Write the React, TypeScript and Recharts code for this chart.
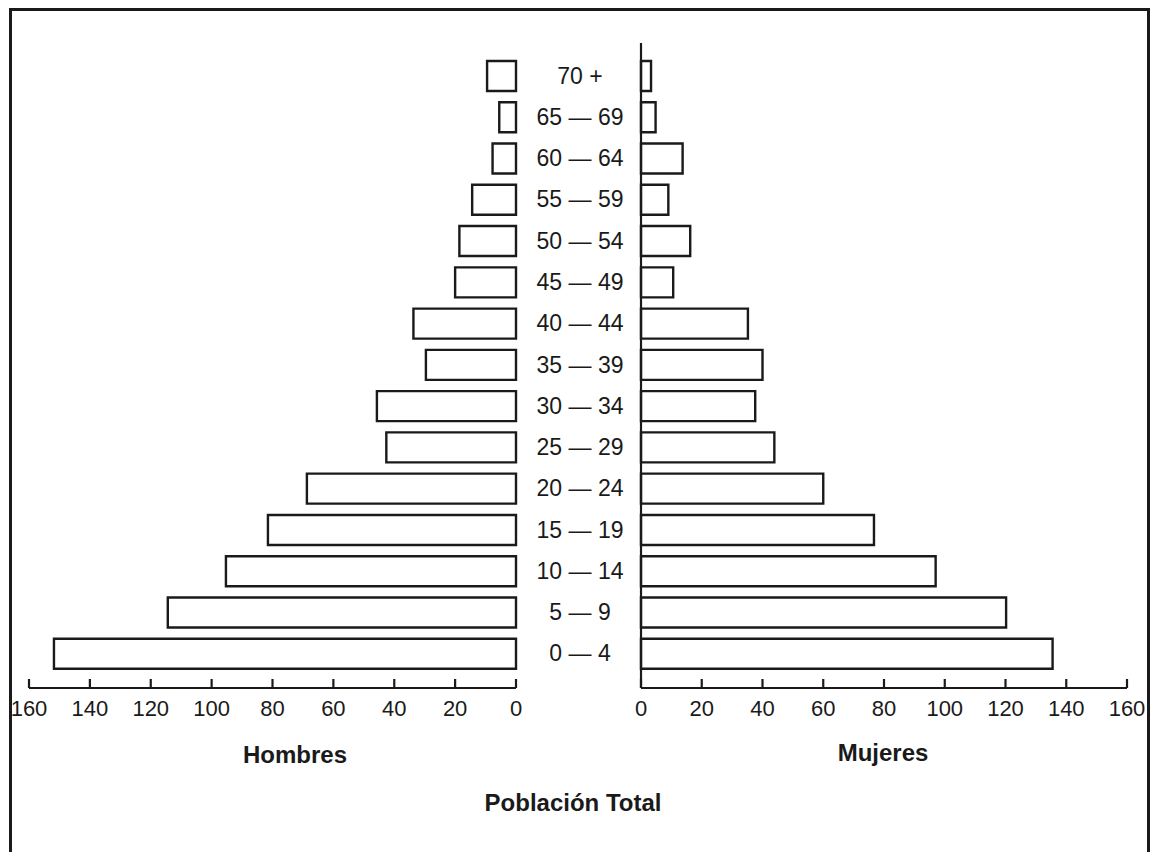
import { Bar, BarChart, XAxis, YAxis } from "recharts";

// age groups, top (oldest) to bottom (youngest)
const ages = [
  "70 +",
  "65 — 69",
  "60 — 64",
  "55 — 59",
  "50 — 54",
  "45 — 49",
  "40 — 44",
  "35 — 39",
  "30 — 34",
  "25 — 29",
  "20 — 24",
  "15 — 19",
  "10 — 14",
  "5 — 9",
  "0 — 4",
];
const hombres = [9.5, 5.5, 7.7, 14.4, 18.6, 20, 33.7, 29.6, 45.7, 42.6, 68.7, 81.5, 95.3, 114.4, 151.8];
const mujeres = [3.3, 4.8, 13.7, 9, 16.2, 10.6, 35.2, 40, 37.6, 43.9, 60, 76.7, 97, 120.2, 135.5];
const xTicks = [0, 20, 40, 60, 80, 100, 120, 140, 160];

const font = '"Liberation Sans", Arial, Helvetica, sans-serif';
const ink = "#1a1a1a";

const rows = ages.map((age, i) => ({ age, hombres: hombres[i], mujeres: mujeres[i] }));

const tickStyle = { fontSize: 22, fontFamily: font, fill: ink };
const line = { stroke: ink, strokeWidth: 2.2 };

function AgeTick({ y, payload }: any) {
  return (
    <text x={64} y={y} textAnchor="middle" dominantBaseline="central" fontSize={23} fontFamily={font} fill={ink}>
      {payload.value}
    </text>
  );
}

function Title({ text, cx, cy }: { text: string; cx: number; cy: number }) {
  return (
    <div
      style={{
        position: "absolute",
        left: cx - 150,
        top: cy - 12,
        width: 300,
        textAlign: "center",
        fontFamily: font,
        fontWeight: "bold",
        fontSize: 24,
        lineHeight: "24px",
        color: ink,
      }}
    >
      {text}
    </div>
  );
}

export default function App() {
  return (
    <div style={{ position: "absolute", left: 0, top: 0, width: 1154, height: 852, overflow: "hidden", background: "#fff" }}>
      <div
        style={{
          position: "absolute",
          left: 9,
          top: 7.5,
          width: 1141,
          height: 900,
          boxSizing: "border-box",
          borderTop: `3px solid ${ink}`,
          borderLeft: `3px solid ${ink}`,
          borderRight: `3px solid ${ink}`,
        }}
      />

      <div style={{ position: "absolute", left: 0, top: 0 }}>
        <BarChart width={560} height={760} data={rows} layout="vertical" margin={{ top: 43, right: 44, bottom: 32, left: 29 }}>
          <XAxis
            type="number"
            domain={[0, 160]}
            ticks={xTicks}
            reversed
            height={40}
            axisLine={line}
            tickLine={line}
            tickSize={-9}
            tickMargin={21}
            tick={tickStyle}
          />
          <YAxis
            type="category"
            dataKey="age"
            orientation="right"
            width={0}
            padding={{ top: 12, bottom: 14 }}
            axisLine={line}
            tickLine={false}
            tick={false}
          />
          <Bar dataKey="hombres" barSize={30} fill="#fff" stroke={ink} strokeWidth={2.4} isAnimationActive={false} />
        </BarChart>
      </div>

      <div style={{ position: "absolute", left: 516, top: 0 }}>
        <BarChart width={638} height={760} data={rows} layout="vertical" margin={{ top: 43, right: 27, bottom: 32, left: 0 }}>
          <XAxis
            type="number"
            domain={[0, 160]}
            ticks={xTicks}
            height={40}
            axisLine={line}
            tickLine={line}
            tickSize={-9}
            tickMargin={21}
            tick={tickStyle}
          />
          <YAxis
            type="category"
            dataKey="age"
            orientation="left"
            width={125}
            interval={0}
            padding={{ top: 12, bottom: 14 }}
            axisLine={line}
            tickLine={false}
            tickSize={0}
            tick={<AgeTick />}
          />
          <Bar dataKey="mujeres" barSize={30} fill="#fff" stroke={ink} strokeWidth={2.4} isAnimationActive={false} />
        </BarChart>
      </div>

      <Title text="Hombres" cx={295} cy={755} />
      <Title text="Mujeres" cx={883} cy={753} />
      <Title text="Población Total" cx={573} cy={803} />
    </div>
  );
}
